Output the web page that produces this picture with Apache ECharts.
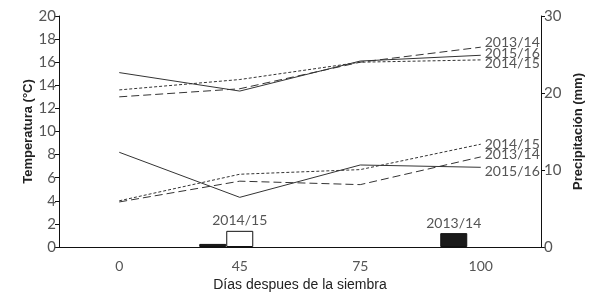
<!DOCTYPE html>
<html><head><meta charset="utf-8">
<script src="https://cdn.jsdelivr.net/npm/echarts@6/dist/echarts.min.js"></script>
<style>html,body{margin:0;padding:0;background:#fff}#c{width:589px;height:294px}</style>
</head><body><div id="c"></div>
<script>
const categories = ['0', '45', '75', '100'];
const tmax2013 = [13.0, 13.7, 16.0, 17.3];
const tmax2014 = [13.6, 14.5, 16.0, 16.2];
const tmax2015 = [15.1, 13.5, 16.1, 16.6];
const tmin2013 = [3.9, 5.7, 5.4, 7.8];
const tmin2014 = [4.0, 6.3, 6.7, 8.9];
const tmin2015 = [8.2, 4.3, 7.1, 6.9];
const rain2013 = [null, 0.4, null, 1.8];
const rain2014 = [null, 2.1, null, null];
const rain2015 = [null, null, null, null];

const tickFont = 'Lato, "DejaVu Sans", sans-serif';
const nameFont = '"Liberation Sans", Arial, sans-serif';

function lineSeries(name, data, type, offY) {
  return {
    type: 'line', name: name, data: data, yAxisIndex: 0, xAxisIndex: 0,
    symbol: 'none', silent: true,
    lineStyle: { color: '#333', width: 1, type: type },
    endLabel: { show: true, formatter: '{a}', color: '#555', fontSize: 14, fontFamily: tickFont, distance: 4, offset: [0, offY] },
    z: 3
  };
}

const chart = echarts.init(document.getElementById('c'));
chart.setOption({
  animation: false,
  grid: { left: 59, right: 48, top: 16, bottom: 47, containLabel: false, outerBoundsMode: 'none' },
  xAxis: {
    type: 'category', data: categories, boundaryGap: true,
    axisLine: { lineStyle: { color: '#111', width: 1 } },
    axisTick: { show: false },
    axisLabel: { color: '#555', fontSize: 14, fontFamily: tickFont, margin: 12 },
    name: 'Días despues de la siembra', nameLocation: 'middle', nameGap: 30,
    nameTextStyle: { color: '#222', fontSize: 14, fontFamily: nameFont }
  },
  yAxis: [{
    type: 'value', min: 0, max: 20, interval: 2, position: 'left',
    axisLine: { show: true, lineStyle: { color: '#111', width: 1 } },
    axisTick: { show: true, length: 4, lineStyle: { color: '#111' } },
    splitLine: { show: false },
    axisLabel: { color: '#555', fontSize: 15, fontFamily: tickFont, margin: 3 },
    name: 'Temperatura (°C)', nameLocation: 'middle', nameGap: 24, nameRotate: 90, nameMoveOverlap: false,
    nameTextStyle: { color: '#222', fontSize: 13, fontWeight: 'bold', fontFamily: nameFont }
  }, {
    type: 'value', min: 0, max: 30, interval: 10, position: 'right',
    axisLine: { show: true, lineStyle: { color: '#111', width: 1 } },
    axisTick: { show: true, length: 4, lineStyle: { color: '#111' } },
    splitLine: { show: false },
    axisLabel: { color: '#555', fontSize: 15, fontFamily: tickFont, margin: 3 },
    name: 'Precipitación (mm)', nameLocation: 'middle', nameGap: 31, nameRotate: 90, nameMoveOverlap: false,
    nameTextStyle: { color: '#222', fontSize: 13, fontWeight: 'bold', fontFamily: nameFont }
  }],
  series: [
    lineSeries('2013/14', tmax2013, [8, 4], -5),
    lineSeries('2014/15', tmax2014, [3, 2], 4),
    lineSeries('2015/16', tmax2015, 'solid', -2),
    lineSeries('2013/14', tmin2013, [8, 4], -2),
    lineSeries('2014/15', tmin2014, [3, 2], 0),
    lineSeries('2015/16', tmin2015, 'solid', 4),
    {
      type: 'bar', name: '2013/14', yAxisIndex: 1, barWidth: 27, barGap: '0%',
      data: rain2013.map((v, i) => ({ value: v, label: { show: i === 3 } })),
      itemStyle: { color: '#1a1a1a', borderColor: '#111', borderWidth: 1 },
      label: { position: 'top', formatter: '{a}', color: '#555', fontSize: 14, fontFamily: tickFont, distance: 3 }
    },
    {
      type: 'bar', name: '2014/15', yAxisIndex: 1, barWidth: 27, barGap: '0%',
      data: rain2014.map((v, i) => ({ value: v, label: { show: i === 1 } })),
      itemStyle: { color: '#fff', borderColor: '#111', borderWidth: 1 },
      label: { position: 'top', formatter: '{a}', color: '#555', fontSize: 14, fontFamily: tickFont, distance: 3 }
    },
    {
      type: 'bar', name: '2015/16', yAxisIndex: 1, barWidth: 27, barGap: '0%',
      data: rain2015,
      itemStyle: { color: '#888', borderColor: '#111', borderWidth: 1 }
    }
  ]
});
</script>
</body></html>
